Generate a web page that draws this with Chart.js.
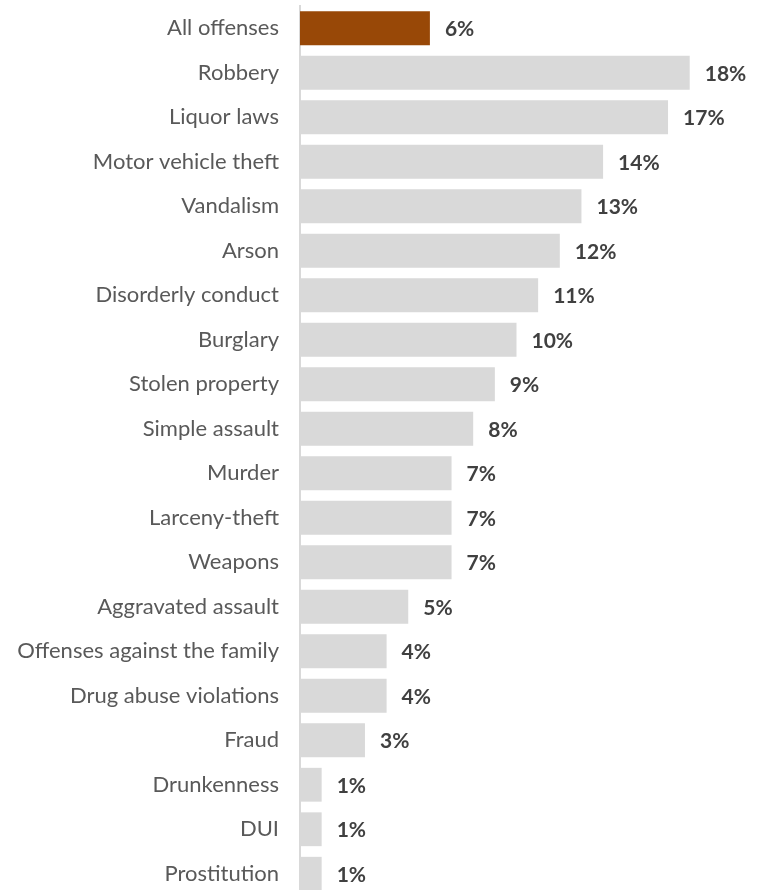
<!DOCTYPE html>
<html lang="en">
<head>
    <meta charset="UTF-8">
    <title>Offenses chart</title>
    <script src="https://cdn.jsdelivr.net/npm/chart.js"></script>
    <style>
        html, body { margin: 0; padding: 0; background: #fff; overflow: hidden; }
        .chart-container { position: relative; width: 764px; height: 896px; }
    </style>
</head>
<body>
    <div class="chart-container">
        <canvas id="offenseChart"></canvas>
    </div>

    <script>
        const categories = [
            'All offenses', 'Robbery', 'Liquor laws', 'Motor vehicle theft', 'Vandalism',
            'Arson', 'Disorderly conduct', 'Burglary', 'Stolen property', 'Simple assault',
            'Murder', 'Larceny-theft', 'Weapons', 'Aggravated assault', 'Offenses against the family',
            'Drug abuse violations', 'Fraud', 'Drunkenness', 'DUI', 'Prostitution'
        ];
        const percents = [6, 18, 17, 14, 13, 12, 11, 10, 9, 8, 7, 7, 7, 5, 4, 4, 3, 1, 1, 1];

        const barColors = categories.map((c, i) => i === 0 ? '#984807' : '#d9d9d9');
        const fontFamily = 'Lato, "Open Sans", sans-serif';

        // value labels to the right of each bar
        const valueLabels = {
            id: 'valueLabels',
            afterDatasetsDraw(chart) {
                const ctx = chart.ctx;
                const meta = chart.getDatasetMeta(0);
                ctx.save();
                ctx.font = 'bold 21px ' + fontFamily;
                ctx.fillStyle = '#404040';
                ctx.textAlign = 'left';
                ctx.textBaseline = 'middle';
                meta.data.forEach((bar, i) => {
                    ctx.fillText(percents[i] + '%', bar.x + 15, bar.y + 1);
                });
                ctx.restore();
            }
        };

        const ctx = document.getElementById('offenseChart').getContext('2d');
        new Chart(ctx, {
            type: 'bar',
            data: {
                labels: categories,
                datasets: [{
                    data: percents,
                    backgroundColor: barColors,
                    barPercentage: 0.76,
                    categoryPercentage: 1
                }]
            },
            options: {
                indexAxis: 'y',
                responsive: true,
                maintainAspectRatio: false,
                animation: false,
                layout: { padding: { top: 6, right: 31, bottom: 0, left: 0 } },
                plugins: {
                    legend: { display: false },
                    tooltip: { enabled: false }
                },
                scales: {
                    x: {
                        display: false,
                        min: 0,
                        max: 20
                    },
                    y: {
                        afterFit(scale) {
                            scale.width = 300;
                            scale.paddingTop = 0;
                            scale.paddingBottom = 0;
                        },
                        grid: { display: false, drawTicks: false },
                        border: { display: true, color: '#d9d9d9', width: 2 },
                        ticks: {
                            padding: 21,
                            color: '#595959',
                            font: { family: fontFamily, size: 22 }
                        }
                    }
                }
            },
            plugins: [valueLabels]
        });
    </script>
</body>
</html>
